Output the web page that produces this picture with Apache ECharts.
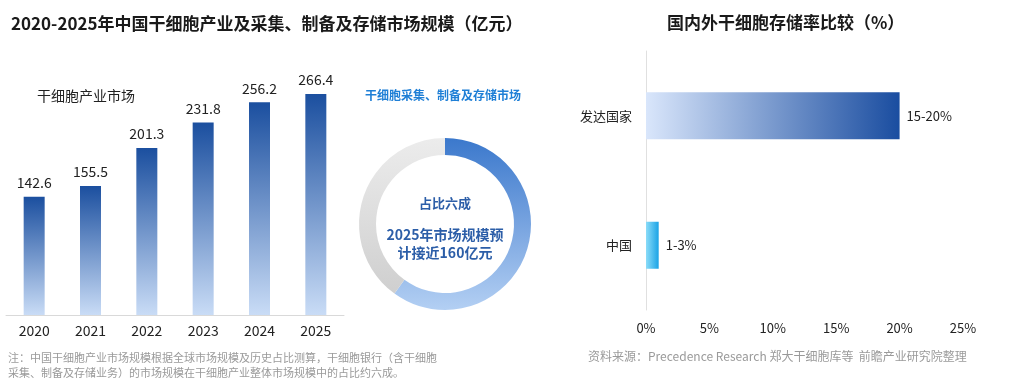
<!DOCTYPE html>
<html><head><meta charset="utf-8">
<script src="https://cdn.jsdelivr.net/npm/echarts@6/dist/echarts.min.js"></script>
<style>html,body{margin:0;padding:0;background:#fff}#c{width:1022px;height:384px}</style>
</head><body><div id="c"></div>
<script>
const years = ['2020','2021','2022','2023','2024','2025'];
const marketValues = [142.6, 155.5, 201.3, 231.8, 256.2, 266.4];
const donutData = [{name:'干细胞采集、制备及存储市场', value:60},{name:'其他', value:40}];
const regions = ['中国','发达国家'];
const storageRates = [1, 20];
const storageLabels = ['1-3%','15-20%'];
const rateTicks = [0,5,10,15,20,25];

const FONT = '"Noto Sans CJK SC","Noto Sans",sans-serif';
const chart = echarts.init(document.getElementById('c'));
chart.setOption({
  textStyle:{fontFamily:FONT},
  animation:false,
  title:[
    {text:'2020-2025年中国干细胞产业及采集、制备及存储市场规模（亿元）', left:6, top:10,
     textStyle:{fontSize:17, fontWeight:'bold', color:'#1a1a1a', fontFamily:FONT}},
    {text:'国内外干细胞存储率比较（%）', left:662, top:9,
     textStyle:{fontSize:17, fontWeight:'bold', color:'#1a1a1a', fontFamily:FONT}}
  ],
  grid:[
    {left:6, right:678, top:66, bottom:69},
    {left:646, right:59, top:51, bottom:74}
  ],
  xAxis:[
    {gridIndex:0, type:'category', data:years,
     axisLine:{lineStyle:{color:'#d9d9d9'}}, axisTick:{show:false},
     axisLabel:{color:'#222', fontSize:14, margin:9, fontFamily:FONT}},
    {gridIndex:1, type:'value', min:0, max:25, interval:5,
     axisLine:{show:false}, axisTick:{show:false}, splitLine:{show:false},
     axisLabel:{color:'#222', fontSize:13, margin:12, fontFamily:FONT,
       formatter:function(v){return rateTicks.indexOf(v)>=0 ? v+'%' : '';}}}
  ],
  yAxis:[
    {gridIndex:0, type:'value', min:0, max:300, show:false},
    {gridIndex:1, type:'category', data:regions,
     axisLine:{lineStyle:{color:'#e0e0e0'}}, axisTick:{show:false},
     axisLabel:{color:'#222', fontSize:13, margin:14, fontFamily:FONT}}
  ],
  series:[
    {type:'bar', xAxisIndex:0, yAxisIndex:0, data:marketValues, barWidth:21,
     itemStyle:{color:new echarts.graphic.LinearGradient(0,0,0,1,[
       {offset:0,color:'#1b4f9f'},{offset:1,color:'#c9dcf6'}])},
     label:{show:true, position:'top', distance:7, color:'#222', fontSize:14, fontFamily:FONT}},
    {type:'bar', xAxisIndex:1, yAxisIndex:1, barWidth:47,
     data:[
       {value:storageRates[0], itemStyle:{color:new echarts.graphic.LinearGradient(0,0,1,0,[
         {offset:0,color:'#8bdcf8'},{offset:1,color:'#1aa3e6'}])}},
       {value:storageRates[1], itemStyle:{color:new echarts.graphic.LinearGradient(0,0,1,0,[
         {offset:0,color:'#d9e6fb'},{offset:1,color:'#1a4da0'}])}}
     ],
     label:{show:true, position:'right', distance:7, color:'#222', fontSize:13, fontFamily:FONT,
       formatter:function(p){return storageLabels[p.dataIndex];}}},
    {type:'pie', center:[445,224], radius:[69,86], startAngle:90, clockwise:true,
     silent:true, label:{show:false}, labelLine:{show:false},
     data:[
       {value:donutData[0].value, name:donutData[0].name,
        itemStyle:{color:new echarts.graphic.LinearGradient(0,0,0,1,[
          {offset:0,color:'#3b78cc'},{offset:1,color:'#b3cff3'}])}},
       {value:donutData[1].value, name:donutData[1].name,
        itemStyle:{color:new echarts.graphic.LinearGradient(0,0,0,1,[
          {offset:0,color:'#ececec'},{offset:1,color:'#cfcfcf'}])}}
     ]}
  ],
  graphic:[
    {type:'text', left:37, top:89, style:{text:'干细胞产业市场', fill:'#222', font:'14px '+FONT}},
    {type:'text', left:365, top:89, style:{text:'干细胞采集、制备及存储市场', fill:'#1f7fd6', font:'bold 12px '+FONT}},
    {type:'text', x:445, y:203, style:{text:'占比六成', fill:'#2c5ea8', font:'bold 13px '+FONT, align:'center', verticalAlign:'middle'}},
    {type:'text', x:445, y:235, style:{text:'2025年市场规模预', fill:'#2c5ea8', font:'bold 14px '+FONT, align:'center', verticalAlign:'middle'}},
    {type:'text', x:445, y:253, style:{text:'计接近160亿元', fill:'#2c5ea8', font:'bold 14px '+FONT, align:'center', verticalAlign:'middle'}},
    {type:'text', left:8, top:350, style:{text:'注：中国干细胞产业市场规模根据全球市场规模及历史占比测算，干细胞银行（含干细胞\n采集、制备及存储业务）的市场规模在干细胞产业整体市场规模中的占比约六成。', fill:'#9a9a9a', font:'11px '+FONT, lineHeight:15}},
    {type:'text', left:588, top:350, style:{text:'资料来源：Precedence Research 郑大干细胞库等  前瞻产业研究院整理', fill:'#9a9a9a', font:'12px '+FONT}}
  ]
});
</script></body></html>
